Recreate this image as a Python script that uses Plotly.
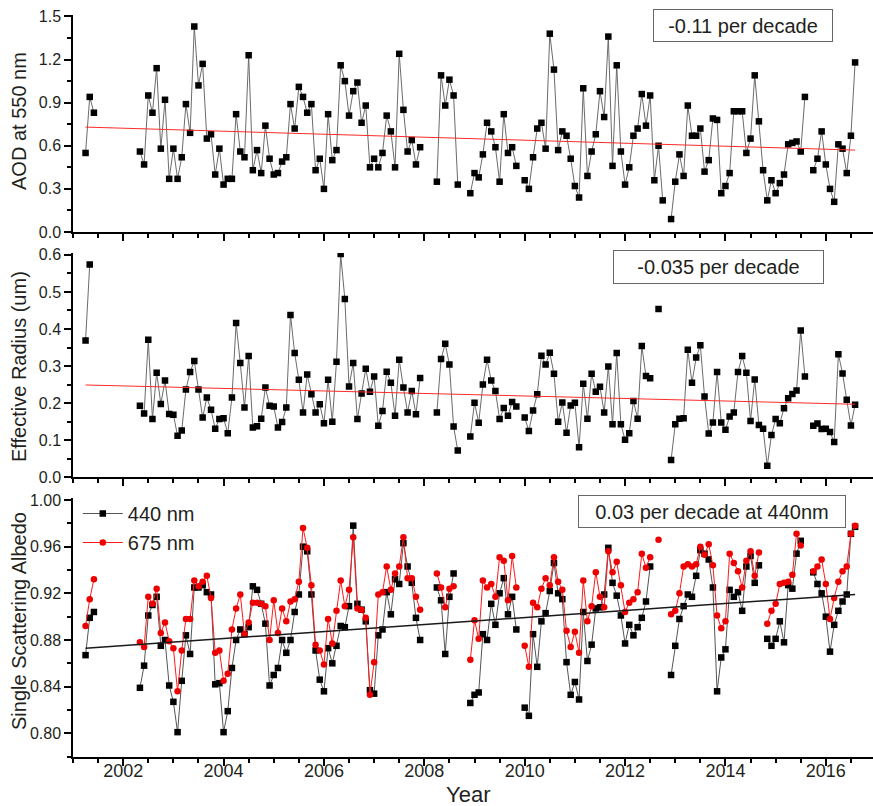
import plotly.graph_objects as go
import pandas as pd

# ---------------- data (monthly, Apr 2001 - Aug 2016; None = no data) ----------------
start_month = "2001-04-01"
end_month = "2016-08-01"

aod_550 = [
    0.55, 0.94, 0.83, None, None, None, None, None, None,                      # 2001 Apr-Dec
    None, None, None, None, 0.56, 0.47, 0.95, 0.83, 1.14, 0.58, 0.92, 0.37,    # 2002
    0.58, 0.37, 0.52, 0.89, 0.69, 1.43, 1.02, 1.17, 0.65, 0.68, 0.40, 0.58,    # 2003
    0.33, 0.37, 0.37, 0.82, 0.56, 0.52, 1.23, 0.43, 0.57, 0.41, 0.74, 0.51,    # 2004
    0.40, 0.41, 0.49, 0.52, 0.89, 0.72, 1.01, 0.94, 0.83, 0.89, 0.43, 0.51,    # 2005
    0.30, 0.82, 0.50, 0.57, 1.16, 1.05, 0.81, 0.98, 1.04, 0.76, 0.88, 0.45,    # 2006
    0.51, 0.45, 0.55, 0.81, 0.70, 0.45, 1.24, 0.85, 0.56, 0.64, 0.47, 0.59,    # 2007
    None, None, None, 0.35, 1.09, 0.88, 1.06, 0.95, 0.33, None, None, 0.27,    # 2008
    0.41, 0.38, 0.54, 0.76, 0.70, 0.59, 0.35, 0.82, 0.55, 0.59, 0.46, None,    # 2009
    0.36, 0.30, 0.52, 0.72, 0.76, 0.58, 1.38, 1.13, 0.57, 0.70, 0.67, 0.51,    # 2010
    0.32, 0.24, 1.00, 0.39, 0.56, 0.68, 0.98, 0.80, 1.36, 0.46, 1.16, 0.56,    # 2011
    0.33, 0.45, 0.67, 0.72, 0.96, 0.74, 0.95, 0.36, 0.60, 0.22, None, 0.09,    # 2012
    0.35, 0.54, 0.39, 0.88, 0.67, 0.67, 0.72, 0.42, 0.50, 0.79, 0.78, 0.27,    # 2013
    0.32, 0.41, 0.84, 0.84, 0.84, 0.55, 0.65, 1.09, 0.77, 0.43, 0.22, 0.36,    # 2014
    0.27, 0.34, 0.40, 0.61, 0.62, 0.63, 0.56, 0.94, None, 0.43, 0.51, 0.70,    # 2015
    0.47, 0.30, 0.21, 0.61, 0.58, 0.41, 0.67, 1.18,                            # 2016 Jan-Aug
]

eff_radius = [
    0.369, 0.574, None, None, None, None, None, None, None,
    None, None, None, None, 0.193, 0.172, 0.371, 0.157, 0.282, 0.198, 0.261, 0.171,
    0.169, 0.112, 0.126, 0.237, 0.284, 0.314, 0.237, 0.161, 0.215, 0.182, 0.131, 0.157,
    0.159, 0.119, 0.215, 0.416, 0.308, 0.188, 0.327, 0.134, 0.138, 0.158, 0.242, 0.193,
    0.191, 0.134, 0.149, 0.188, 0.438, 0.335, 0.263, 0.175, 0.277, 0.224, 0.175, 0.197,
    0.146, 0.263, 0.150, 0.312, 0.602, 0.481, 0.245, 0.308, 0.157, 0.226, 0.293, 0.231,
    0.272, 0.139, 0.179, 0.285, 0.255, 0.166, 0.317, 0.242, 0.175, 0.233, 0.170, 0.268,
    None, None, None, 0.175, 0.319, 0.360, 0.304, 0.137, 0.072, None, None, 0.110,
    0.201, 0.147, 0.250, 0.317, 0.261, 0.233, 0.157, 0.187, 0.166, 0.203, 0.191, None,
    0.161, 0.125, 0.180, 0.224, 0.328, 0.304, 0.336, 0.279, 0.150, 0.202, 0.120, 0.194,
    0.201, 0.081, 0.252, 0.158, 0.279, 0.231, 0.244, 0.175, 0.299, 0.143, 0.335, 0.143,
    0.101, 0.119, 0.206, 0.158, 0.354, 0.273, 0.267, None, 0.454, None, None, 0.047,
    0.143, 0.158, 0.159, 0.344, 0.255, 0.323, 0.356, 0.218, 0.118, 0.148, 0.284, 0.148,
    0.128, 0.164, 0.175, 0.284, 0.327, 0.282, 0.152, 0.264, 0.141, 0.131, 0.031, 0.114,
    0.157, 0.146, 0.186, 0.213, 0.225, 0.234, 0.396, 0.272, None, 0.139, 0.145, 0.130,
    0.131, 0.122, 0.095, 0.332, 0.280, 0.209, 0.140, 0.196,
]

ssa_440 = [
    0.867, 0.899, 0.904, None, None, None, None, None, None,
    None, None, None, None, 0.839, 0.858, 0.901, 0.910, 0.917, 0.875, 0.880, 0.841,
    0.827, 0.801, 0.845, 0.884, 0.868, 0.925, 0.925, 0.927, 0.921, 0.919, 0.842, 0.843,
    0.801, 0.819, 0.856, 0.880, 0.889, 0.885, 0.891, 0.926, 0.923, 0.911, 0.894, 0.841,
    0.850, 0.856, 0.880, 0.869, 0.880, 0.904, 0.919, 0.960, 0.956, 0.919, 0.871, 0.846,
    0.836, 0.873, 0.860, 0.875, 0.892, 0.891, 0.909, 0.978, 0.911, 0.906, 0.896, 0.837,
    0.834, 0.884, 0.889, 0.921, 0.902, 0.932, 0.928, 0.963, 0.943, 0.929, 0.899, 0.880,
    None, None, None, 0.925, 0.914, 0.868, 0.917, 0.937, None, None, None, 0.826,
    0.833, 0.835, 0.885, 0.880, 0.911, 0.893, 0.920, 0.933, 0.902, 0.917, 0.889, None,
    0.822, 0.815, 0.885, 0.857, 0.896, 0.903, 0.922, 0.946, 0.920, 0.915, 0.861, 0.833,
    0.844, 0.829, 0.904, 0.862, 0.876, 0.907, 0.908, 0.919, 0.959, 0.929, 0.918, 0.901,
    0.877, 0.893, 0.884, 0.891, 0.899, 0.913, 0.943, None, None, None, None, 0.850,
    0.875, 0.898, 0.909, 0.919, 0.917, 0.935, 0.957, 0.954, 0.949, 0.925, 0.836, 0.865,
    0.872, 0.923, 0.917, 0.921, 0.905, 0.943, 0.952, 0.929, 0.944, None, 0.881, 0.875,
    0.881, 0.896, 0.878, 0.927, 0.924, 0.954, 0.965, None, None, 0.938, 0.928, 0.920,
    0.900, 0.870, 0.893, 0.905, 0.913, 0.919, 0.971, 0.977,
]

ssa_675 = [
    0.892, 0.915, 0.932, None, None, None, None, None, None,
    None, None, None, None, 0.878, 0.874, 0.917, 0.911, 0.924, 0.886, 0.895, 0.879,
    0.873, 0.836, 0.871, 0.898, 0.898, 0.931, 0.926, 0.930, 0.935, 0.916, 0.869, 0.871,
    0.845, 0.851, 0.889, 0.907, 0.919, 0.885, 0.895, 0.912, 0.912, 0.911, 0.909, 0.880,
    0.914, 0.886, 0.907, 0.896, 0.913, 0.915, 0.930, 0.976, 0.959, 0.927, 0.876, 0.871,
    0.859, 0.898, 0.877, 0.905, 0.931, 0.909, 0.923, 0.968, 0.907, 0.906, 0.899, 0.833,
    0.861, 0.919, 0.921, 0.943, 0.923, 0.937, 0.943, 0.968, 0.933, 0.933, 0.917, 0.906,
    None, None, None, 0.937, 0.925, 0.908, 0.924, 0.926, None, None, None, 0.863,
    0.897, 0.881, 0.931, 0.925, 0.928, 0.917, 0.951, 0.948, 0.914, 0.952, 0.925, None,
    0.875, 0.857, 0.912, 0.908, 0.924, 0.933, 0.927, 0.951, 0.930, 0.923, 0.888, 0.874,
    0.887, 0.869, 0.931, 0.896, 0.909, 0.938, 0.917, 0.908, 0.956, 0.938, 0.947, 0.927,
    0.904, 0.912, 0.915, 0.921, 0.954, 0.942, 0.951, None, 0.966, None, None, 0.902,
    0.905, 0.920, 0.943, 0.945, 0.943, 0.945, 0.960, 0.953, 0.962, 0.944, 0.901, 0.890,
    0.896, 0.954, 0.946, 0.939, 0.925, 0.948, 0.956, 0.935, 0.955, None, 0.894, 0.905,
    0.911, 0.928, 0.929, 0.930, 0.936, 0.971, 0.961, None, None, 0.939, 0.943, 0.949,
    0.928, 0.898, 0.916, 0.930, 0.939, 0.943, 0.971, 0.978,
]

# linear trends (value at first and last month)
aod_trend = [0.730, 0.570]
reff_trend = [0.249, 0.197]
ssa_trend = [0.873, 0.919]

trend_labels = ["-0.11 per decade", "-0.035 per decade", "0.03 per decade at 440nm"]
year_ticks = list(range(2001, 2017))
year_labels = [str(y) if y % 2 == 0 else "" for y in year_ticks]

# ---------------- build ----------------
months = pd.date_range(start_month, end_month, freq="MS")
t = [d.year + (d.month - 1) / 12 for d in months]
t_trend = [t[0], t[-1]]

FONT = "Liberation Sans, Arial, sans-serif"
TXT = "#231f20"

fig = go.Figure()

fig.add_trace(go.Scatter(x=t, y=aod_550, mode="lines+markers", xaxis="x", yaxis="y",
                         line=dict(color="#6b6b6b", width=1),
                         marker=dict(symbol="square", size=6.5, color="black"),
                         showlegend=False))
fig.add_trace(go.Scatter(x=t_trend, y=aod_trend, mode="lines", xaxis="x", yaxis="y",
                         line=dict(color="#ff2a2a", width=1), showlegend=False))

fig.add_trace(go.Scatter(x=t, y=eff_radius, mode="lines+markers", xaxis="x2", yaxis="y2",
                         line=dict(color="#6b6b6b", width=1),
                         marker=dict(symbol="square", size=6.5, color="black"),
                         showlegend=False))
fig.add_trace(go.Scatter(x=t_trend, y=reff_trend, mode="lines", xaxis="x2", yaxis="y2",
                         line=dict(color="#ff2a2a", width=1), showlegend=False))

fig.add_trace(go.Scatter(x=t, y=ssa_440, mode="lines+markers", xaxis="x3", yaxis="y3",
                         name="440 nm", line=dict(color="#555555", width=1),
                         marker=dict(symbol="square", size=6.5, color="black")))
fig.add_trace(go.Scatter(x=t, y=ssa_675, mode="lines+markers", xaxis="x3", yaxis="y3",
                         name="675 nm", line=dict(color="#ff1a1a", width=1),
                         marker=dict(symbol="circle", size=6.5, color="#ee0000")))
fig.add_trace(go.Scatter(x=t_trend, y=ssa_trend, mode="lines", xaxis="x3", yaxis="y3",
                         line=dict(color="#1a1a1a", width=1.5), showlegend=False))
# empty trace that carries the year-label axis (labels sit closer to the axis line)
fig.add_trace(go.Scatter(x=[], y=[], xaxis="x4", yaxis="y3", showlegend=False,
                         hoverinfo="skip"))

W, H = 873, 806
ML, MR, MT, MB = 73, 0, 15, 49
PH = H - MT - MB


def frac(py):
    return (H - MB - py) / PH


XRANGE = [2001, 2016.94]
xbase = dict(range=XRANGE, showline=True, linecolor="black", linewidth=1.5,
             ticks="outside", ticklen=7, tickwidth=1.5, tickcolor="black",
             tickmode="array", tickvals=year_ticks, ticktext=year_labels,
             minor=dict(ticks="outside", tick0=2001, dtick=0.5, ticklen=4, tickwidth=1.5,
                        tickcolor="black"),
             showgrid=False, zeroline=False, showticklabels=False)
ybase = dict(showline=True, linecolor="black", linewidth=1.5, ticks="outside", ticklen=7,
             tickwidth=1.5, tickcolor="black", showgrid=False, zeroline=False,
             tickfont=dict(family=FONT, size=16, color=TXT))

fig.update_layout(
    width=W, height=H, margin=dict(l=ML, r=MR, t=MT, b=MB),
    paper_bgcolor="white", plot_bgcolor="white",
    font=dict(family=FONT, color=TXT),
    xaxis=dict(xbase, anchor="y"),
    xaxis2=dict(xbase, anchor="y2", matches="x"),
    xaxis3=dict(xbase, anchor="y3", matches="x"),
    xaxis4=dict(range=XRANGE, anchor="y3", overlaying="x3", side="bottom",
                showline=False, ticks="", showgrid=False, zeroline=False,
                tickmode="array", tickvals=year_ticks, ticktext=year_labels,
                ticklabelstandoff=1,
                tickfont=dict(family=FONT, size=18, color=TXT)),
    yaxis=dict(ybase, domain=[frac(232), 1], range=[0, 1.51], tickvals=[0, 0.3, 0.6, 0.9, 1.2, 1.5],
               tickformat=".1f", minor=dict(ticks="outside", dtick=0.15, tick0=0, ticklen=4,
                                            tickwidth=1.5, tickcolor="black")),
    yaxis2=dict(ybase, domain=[frac(477.3), frac(253)], range=[0, 0.605],
                tickvals=[0, 0.1, 0.2, 0.3, 0.4, 0.5, 0.6], tickformat=".1f",
                minor=dict(ticks="outside", dtick=0.05, tick0=0, ticklen=4, tickwidth=1.5,
                           tickcolor="black")),
    yaxis3=dict(ybase, domain=[0, frac(498)], range=[0.7797, 1.0017],
                tickvals=[0.80, 0.84, 0.88, 0.92, 0.96, 1.00], tickformat=".2f",
                minor=dict(ticks="outside", dtick=0.02, tick0=0.78, ticklen=4, tickwidth=1.5,
                           tickcolor="black")),
    legend=dict(x=0.006, y=frac(494), xanchor="left", yanchor="top",
                font=dict(family=FONT, size=20, color=TXT), bgcolor="rgba(0,0,0,0)",
                tracegroupgap=0, itemwidth=40),
)


def px_x(px):
    return (px - ML) / (W - ML - MR)


ann = []
# axis titles
for text, cy in [("AOD at 550 nm", 121), ("Effective Radius (um)", 367),
                 ("Single Scattering Albedo", 621)]:
    ann.append(dict(text=text, x=px_x(19), y=frac(cy), xref="paper", yref="paper",
                    xanchor="center", yanchor="middle", textangle=-90, showarrow=False,
                    font=dict(family=FONT, size=20, color=TXT)))
ann.append(dict(text="Year", x=px_x(468), y=frac(795), xref="paper", yref="paper",
                xanchor="center", yanchor="middle", showarrow=False,
                font=dict(family=FONT, size=22, color=TXT)))
# trend boxes
for text, cx, cy, w, h in [(trend_labels[0], 743, 25.5, 178, 31),
                           (trend_labels[1], 718.5, 267, 209, 32),
                           (trend_labels[2], 712, 511.5, 266, 31)]:
    ann.append(dict(text=text, x=px_x(cx), y=frac(cy), xref="paper", yref="paper",
                    xanchor="center", yanchor="middle", showarrow=False,
                    width=w, height=h, borderpad=0, bordercolor="#666666", borderwidth=1,
                    bgcolor="white", align="center",
                    font=dict(family=FONT, size=20, color=TXT)))
fig.update_layout(annotations=ann)

fig.write_html("out.html")
